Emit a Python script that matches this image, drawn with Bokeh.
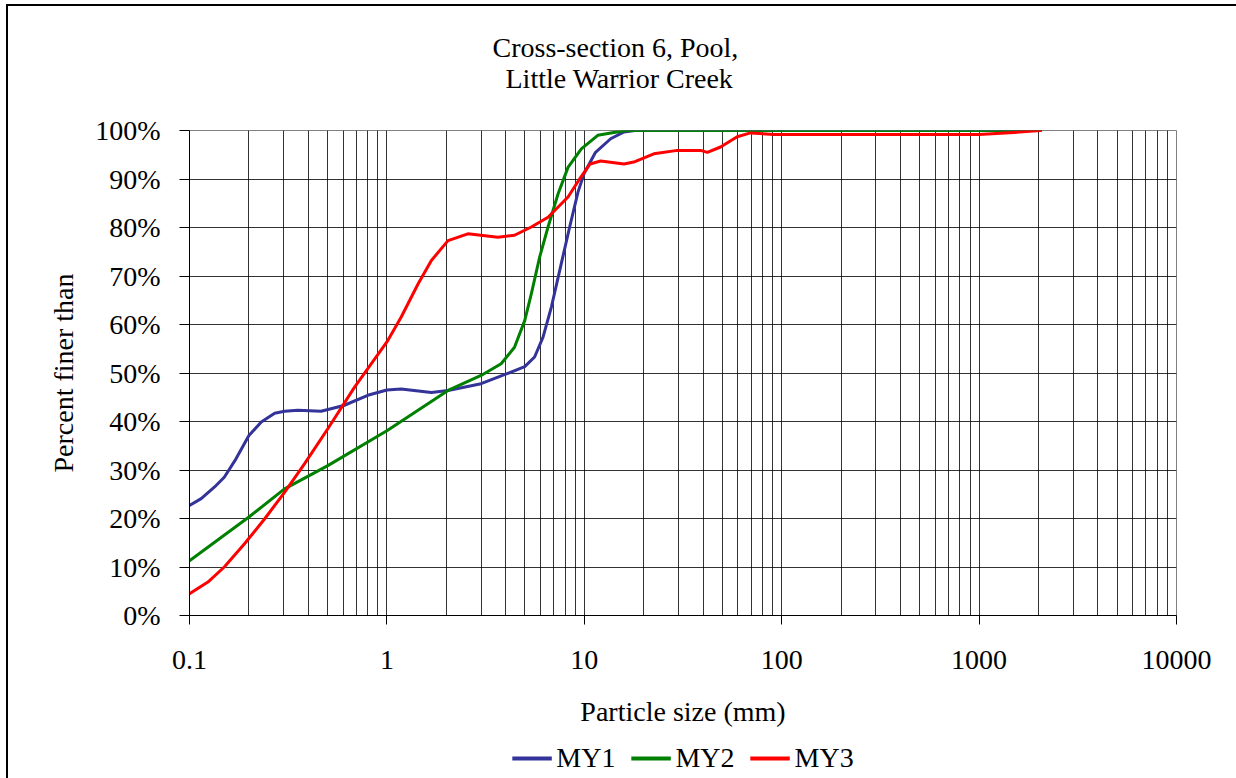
from bokeh.plotting import figure
from bokeh.layouts import column
from bokeh.models import (FixedTicker, NumeralTickFormatter, Legend, LegendItem,
                          Title, Range1d)
from bokeh.embed import file_html
from bokeh.resources import INLINE

# ---------------- data ----------------
title_lines = ["Cross-section  6, Pool,", "Little Warrior Creek"]
x_label = "Particle size (mm)"
y_label = "Percent finer than"
series_names = ["MY1", "MY2", "MY3"]

size_my1 = [0.1, 0.1146, 0.134, 0.150, 0.172, 0.2, 0.231, 0.270, 0.303, 0.354,
            0.464, 0.605, 0.80, 1.0, 1.18, 1.68, 2.04, 3.0, 4.03, 4.99, 5.6,
            6.18, 6.81, 7.64, 8.43, 9.29, 9.96, 11.4, 13.6, 15.9, 18.0, 2048]
pct_my1 = [22.7, 24.1, 26.5, 28.5, 32.3, 37.1, 39.9, 41.7, 42.1, 42.3,
           42.1, 43.3, 45.4, 46.5, 46.7, 46.0, 46.4, 47.8, 49.8, 51.3, 53.3,
           57.4, 63.6, 72.5, 80.1, 87.3, 91.1, 95.5, 98.3, 99.7, 100, 100]

size_my2 = [0.1, 0.2, 0.303, 0.502, 1.0, 2.04, 3.0, 3.79, 4.43, 4.99, 5.39,
            5.94, 6.55, 7.36, 8.27, 9.66, 11.7, 14.1, 16.5, 2048]
pct_my2 = [11.3, 20.3, 26.1, 30.9, 38.1, 46.4, 49.5, 51.9, 55.3, 60.8, 66.3,
           73.9, 80.1, 86.9, 92.4, 96.2, 99.0, 99.6, 100, 100]

size_my3 = [0.1, 0.124, 0.150, 0.190, 0.240, 0.303, 0.383, 0.502, 0.686, 1.0,
            1.18, 1.44, 1.68, 2.04, 2.57, 3.65, 4.43, 5.39, 6.55, 8.27, 9.57,
            10.7, 12.1, 15.9, 17.8, 22.5, 29.6, 38.8, 42.0, 49.0, 59.5, 69.5,
            91.3, 1000, 1500, 2048]
pct_my3 = [4.5, 6.9, 10.0, 14.8, 19.9, 25.4, 31.3, 38.5, 47.1, 56.4,
           61.5, 68.4, 73.2, 77.3, 78.7, 78.0, 78.4, 80.1, 82.1, 86.3, 90.3,
           93.1, 93.7, 93.1, 93.5, 95.2, 95.9, 95.9, 95.5, 96.6, 98.7, 99.5,
           99.2, 99.2, 99.6, 100]

x_major = [0.1, 1, 10, 100, 1000, 10000]
x_major_labels = ["0.1", "1", "10", "100", "1000", "10000"]
y_major = [i / 10 for i in range(11)]

colors = ["#333399", "#008000", "#FF0000"]
sizes = [size_my1, size_my2, size_my3]
pcts = [pct_my1, pct_my2, pct_my3]

FONT = "Liberation Serif"

# ---------------- main figure ----------------
p = figure(width=1228, height=732, x_axis_type="log",
           x_range=Range1d(0.1, 10000), y_range=Range1d(0, 1),
           output_backend="svg", toolbar_location=None,
           min_border_left=181, min_border_right=60,
           min_border_top=124, min_border_bottom=123)
p.outline_line_color = "#808080"
p.background_fill_color = "white"
p.border_fill_color = "white"

# titles: p.title is the farthest from the frame, the added one is nearest
p.title.text = title_lines[0]
p.title.align = "left"
p.title.offset = 303
p.title.text_font = FONT
p.title.text_font_size = "28px"
p.title.text_font_style = "normal"
p.title.text_color = "black"
p.title.standoff = -78
t2 = Title(text=title_lines[1], align="left", offset=316, text_font=FONT,
           text_font_size="28px", text_font_style="normal",
           text_color="black", standoff=74)
p.add_layout(t2, "above")

minor = []
for d in x_major[:-1]:
    for m in range(2, 10):
        minor.append(d * m)
xt = FixedTicker(ticks=x_major, minor_ticks=minor)
p.xaxis.ticker = xt
p.xgrid.ticker = xt
p.xaxis.major_label_overrides = {v: s for v, s in zip(x_major, x_major_labels)}
p.yaxis.ticker = FixedTicker(ticks=y_major)
p.yaxis.formatter = NumeralTickFormatter(format="0%")

for g in (p.xgrid, p.ygrid):
    g.grid_line_color = "black"
    g.grid_line_alpha = 0.8
    g.grid_line_width = 1
p.xgrid.minor_grid_line_color = "black"
p.xgrid.minor_grid_line_alpha = 0.8

for ax in (p.xaxis, p.yaxis):
    ax.axis_line_color = "black"
    ax.major_tick_line_color = "black"
    ax.major_tick_in = 0
    ax.minor_tick_line_color = None
    ax.major_label_text_font = FONT
    ax.major_label_text_font_size = "28px"
    ax.major_label_text_color = "black"
    ax.axis_label_text_font = FONT
    ax.axis_label_text_font_size = "28px"
    ax.axis_label_text_font_style = "normal"
    ax.axis_label_text_color = "black"

p.xaxis.major_tick_out = 9
p.yaxis.major_tick_out = 10
p.xaxis.major_label_standoff = 26
p.yaxis.major_label_standoff = 19
p.xaxis.axis_label = x_label
p.yaxis.axis_label = y_label
p.xaxis.axis_label_standoff = 24
p.yaxis.axis_label_standoff = 13

for xs, ys, c in zip(sizes, pcts, colors):
    p.line(xs, [y / 100 for y in ys], line_color=c,
           line_width=3, line_join="round", line_cap="round")

# ---------------- legend strip (same series, drawn outside its view) ----------------
p2 = figure(width=1228, height=40, x_range=Range1d(1e5, 2e5),
            y_range=Range1d(0, 1), output_backend="svg", toolbar_location=None,
            x_axis_location=None, y_axis_location=None,
            min_border_left=181, min_border_right=60,
            min_border_top=0, min_border_bottom=0)
p2.outline_line_color = None
p2.grid.visible = False
p2.border_fill_color = "white"
items = []
for xs, ys, c, n in zip(sizes, pcts, colors, series_names):
    r = p2.line(xs, [y / 100 for y in ys], line_color=c, line_width=4)
    items.append(LegendItem(label=n, renderers=[r]))
legend = Legend(items=items, orientation="horizontal", location="center",
                glyph_width=40, glyph_height=20, label_standoff=5, spacing=15,
                padding=0, margin=0, border_line_color=None,
                background_fill_alpha=0,
                label_text_font=FONT, label_text_font_size="28px",
                label_text_color="black")
p2.add_layout(legend)

# chart-area frame: top and left edges, as in the reference
layout = column(p, p2, spacing=0, margin=(4, 0, 0, 6),
                styles={"border-top": "2px solid black",
                        "border-left": "2px solid black",
                        "box-sizing": "content-box",
                        "overflow": "visible"})
open("out.html", "w").write(file_html(layout, INLINE))
